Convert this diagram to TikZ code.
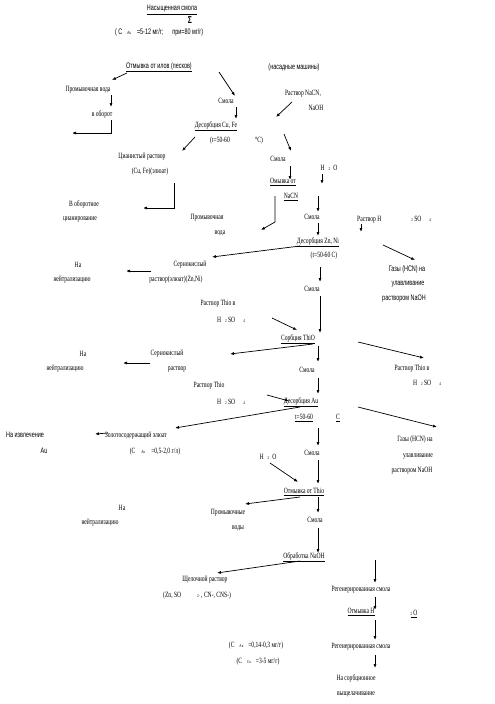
\documentclass[tikz,border=0pt]{standalone}
\usepackage{fontspec}
\usetikzlibrary{arrows.meta}
\newfontfamily\srf[FakeStretch=0.7]{Liberation Serif}
\newfontfamily\snf[FakeStretch=0.68]{Liberation Sans}
\newcommand\ssb[1]{{\fontsize{4.5}{5}\selectfont #1}}
\tikzset{
  t/.style={inner sep=0pt, font=\srf\fontsize{8}{9}\selectfont},
  ts/.style={inner sep=0pt, font=\snf\fontsize{8}{9}\selectfont},
  arr/.style={-{Latex[length=4pt,width=3pt]}, line width=0.7pt},
  ln/.style={line width=0.7pt}
}
\begin{document}
\begin{tikzpicture}[x=1pt,y=-1pt]
\useasboundingbox[fill=white] (0,0) rectangle (495,704);
% ---- texts ----
\node[ts] (nas) at (172,10) {\underline{Насыщенная смола}};
\node[inner sep=0pt, font=\snf\bfseries\fontsize{10}{10}\selectfont] (sig) at (190,20) {Σ};
\node[ts, anchor=west] (cau) at (115,32) {(\,C\hspace{5pt}\ssb{Au}\hspace{6pt}=5-12 мг/г;\hspace{9pt}при=80 мг/г)};
\node[ts] (otm) at (159,67) {\underline{Отмывка от илов (песков)}};
\node[ts] (nas2) at (294,67) {(насадные машины)};
\node[t] (pv1) at (88,90) {Промывочная вода};
\node[t] (vob) at (102,114) {в оборот};
\node[t] (sm1) at (226,101) {Смола};
\node[t] (dcu) at (216,126) {\underline{Десорбция Cu, Fe}};
\node[t] (t1) at (220,141) {(t=50-60};
\node[t] (t1b) at (259,141) {°C)};
\node[t] (nacn) at (303,94) {Раствор NaCN,};
\node[t] (naoh) at (316,108) {NaOH};
\node[t] (cr1) at (142,157) {Цианистый раствор};
\node[t] (cr2) at (150,172) {(Cu, Fe)(элюат)};
\node[t] (vo1) at (84,204) {В оборотное};
\node[t] (vo2) at (80,219) {цианирование};
\node[t] (sm2) at (278,159) {Смола};
\node[t] (om1) at (283,182) {\underline{Омывка от}};
\node[t] (om2) at (291,197) {\underline{NaCN}};
\node[t] (h2o1) at (329,168) {H\hspace{4pt}\ssb{2}\hspace{3pt}O};
\node[t] (sm3) at (312,217) {Смола};
\node[t] (pv2) at (207,218) {Промывочная};
\node[t] (pv3) at (220,233) {вода};
\node[t, anchor=west] (rh) at (357,220) {Раствор H\hspace{30pt}\ssb{2}\,SO\hspace{8pt}\ssb{4}};
\node[t] (dzn) at (318,242) {\underline{Десорбция Zn, Ni}};
\node[t] (t2) at (324,256) {(t=50-60 C)};
\node[ts] (g1a) at (407,269) {Газы (HCN) на};
\node[ts] (g1b) at (408,284) {улавливание};
\node[ts] (g1c) at (404,299) {раствором NaOH};
\node[t] (sk1) at (190,265) {Сернокислый};
\node[t] (sk2) at (176,280) {раствор(элюат)(Zn,Ni)};
\node[t] (nn1) at (78,265) {На};
\node[t] (nn2) at (72,280) {нейтрализацию};
\node[t] (sm4) at (312,289) {Смола};
\node[t] (rt1) at (218,304) {Раствор Thio в};
\node[t] (rt2) at (231,320) {H\hspace{4pt}\ssb{2}\,SO\hspace{8pt}\ssb{4}};
\node[t] (sth) at (298,339) {\underline{Сорбция ThiO}};
\node[t] (sk3) at (167,354) {Сернокислый};
\node[t] (sk4) at (177,369) {раствор};
\node[t] (nn3) at (83,354) {На};
\node[t] (nn4) at (65,369) {нейтрализацию};
\node[t] (rt3) at (412,369) {Раствор Thio в};
\node[t] (rt4) at (427,383) {H\hspace{4pt}\ssb{2}\,SO\hspace{8pt}\ssb{4}};
\node[t] (sm5) at (307,370) {Смола};
\node[t] (rt5) at (209,386) {Раствор Thio};
\node[t] (rt6) at (231,402) {H\hspace{4pt}\ssb{2}\,SO\hspace{8pt}\ssb{4}};
\node[t] (dau) at (301,402) {\underline{Десорбция Au}};
\node[t] (t3) at (304,418) {\underline{t=50-60}};
\node[t] (t3b) at (338,418) {\underline{C}};
\node[t] (ze1) at (136,436) {Золотосодержащий элюат};
\node[t] (ze2) at (155,452) {(C\hspace{6pt}\ssb{Au}\hspace{6pt}=0,5-2,0 г/л)};
\node[ts] (ni1) at (25,435) {На извлечение};
\node[ts] (ni2) at (44,451) {Au};
\node[t] (g2a) at (415,440) {Газы (HCN) на};
\node[t] (g2b) at (418,456) {улавливание};
\node[t] (g2c) at (412,471) {раствором NaOH};
\node[t] (sm6) at (312,453) {Смола};
\node[t] (h2o2) at (268,457) {H\hspace{4pt}\ssb{2}\hspace{3pt}O};
\node[t] (oth) at (304,492) {\underline{Отмывка от Thio}};
\node[t] (pv4) at (228,513) {Промывочные};
\node[t] (pv5) at (238,528) {воды};
\node[t] (nn5) at (122,508) {На};
\node[t] (nn6) at (100,523) {нейтрализацию};
\node[t] (sm7) at (315,520) {Смола};
\node[t] (obr) at (304,557) {\underline{Обработка NaOH}};
\node[t] (shr1) at (205,580) {Щелочной раствор};
\node[t, anchor=west] (shr2) at (163,596) {(Zn, SO\hspace{16pt}\ssb{2-}\,, CN-, CNS-)};
\node[t] (rs1) at (361,590) {Регенерированная смола};
\node[t] (oh1) at (361,612) {\underline{Отмывка H}};
\node[t] (oh2) at (414,614) {\underline{\ssb{2}\,O}};
\node[t] (rs2) at (361,647) {Регенерированная смола};
\node[t] (ns1) at (356,678) {На сорбционное};
\node[t] (ns2) at (356,694) {выщелачивание};
\node[t] (cau2) at (256,646) {(C\hspace{5pt}\ssb{Au}\hspace{5pt}=0,14-0,3 мг/г)};
\node[t] (ccu) at (258,662) {(C\hspace{5pt}\ssb{Cu}\hspace{5pt}=3-5 мг/г)};
% ---- connector points ----
\coordinate (a1s) at (127,73);  \coordinate (a1e) at (112,80);
\coordinate (a2s) at (111,95);  \coordinate (a2e) at (111,107);
\coordinate (a3s) at (111,120); \coordinate (a3m) at (111,133); \coordinate (a3e) at (72,133);
\coordinate (a4s) at (219,72);  \coordinate (a4e) at (235,96);
\coordinate (a5s) at (236,107); \coordinate (a5e) at (236,119);
\coordinate (a6s) at (292,102); \coordinate (a6e) at (276,117);
\coordinate (a7s) at (284,134); \coordinate (a7e) at (291,151);
\coordinate (a8s) at (195,137); \coordinate (a8e) at (182,151);
\coordinate (a9s) at (174,183); \coordinate (a9m) at (174,208); \coordinate (a9e) at (143,208);
\coordinate (a10s) at (290,166); \coordinate (a10e) at (290,180);
\coordinate (a11s) at (322,174); \coordinate (a11e) at (322,184);
\coordinate (a12s) at (275,196); \coordinate (a12m) at (275,222); \coordinate (a12e) at (261,230);
\coordinate (a13s) at (318,196); \coordinate (a13e) at (318,212);
\coordinate (a14s) at (318,223); \coordinate (a14e) at (318,236);
\coordinate (a15s) at (361,224); \coordinate (a15e) at (361,232);
\coordinate (a16s) at (300,246); \coordinate (a16e) at (212,257);
\coordinate (a17s) at (383,245); \coordinate (a17e) at (415,260);
\coordinate (a18s) at (151,271); \coordinate (a18e) at (126,271);
\coordinate (a19s) at (320,267); \coordinate (a19e) at (320,282);
\coordinate (a20s) at (320,296); \coordinate (a20e) at (320,333);
\coordinate (a21s) at (272,318); \coordinate (a21e) at (297,330);
\coordinate (a22s) at (313,344); \coordinate (a22e) at (230,354);
\coordinate (a23s) at (358,342); \coordinate (a23e) at (424,358);
\coordinate (a24s) at (150,363); \coordinate (a24e) at (123,363);
\coordinate (a25s) at (318,346); \coordinate (a25e) at (318,362);
\coordinate (a26s) at (318,378); \coordinate (a26e) at (318,394);
\coordinate (a27s) at (267,395); \coordinate (a27e) at (289,401);
\coordinate (a28s) at (300,407); \coordinate (a28e) at (175,428);
\coordinate (a29s) at (358,407); \coordinate (a29e) at (437,427);
\coordinate (a30s) at (108,433); \coordinate (a30e) at (95,434);
\coordinate (a31s) at (318,428); \coordinate (a31e) at (318,446);
\coordinate (a32s) at (318,460); \coordinate (a32e) at (318,484);
\coordinate (a33s) at (270,463); \coordinate (a33e) at (298,482);
\coordinate (a34s) at (300,497); \coordinate (a34e) at (245,504);
\coordinate (a35s) at (318,497); \coordinate (a35e) at (318,513);
\coordinate (a36s) at (318,528); \coordinate (a36e) at (318,553);
\coordinate (a37s) at (300,561); \coordinate (a37e) at (217,573);
\coordinate (a38s) at (375,560); \coordinate (a38e) at (375,583);
\coordinate (a39s) at (375,597); \coordinate (a39e) at (375,610);
\coordinate (a40s) at (375,620); \coordinate (a40e) at (375,640);
\coordinate (a41s) at (375,655); \coordinate (a41e) at (375,668);
% ---- connectors ----
\draw[arr] (a1s) -- (a1e);
\draw[arr] (a2s) -- (a2e);
\draw[arr] (a3s) -- (a3m) -- (a3e);
\draw[arr] (a4s) -- (a4e);
\draw[arr] (a5s) -- (a5e);
\draw[arr] (a6s) -- (a6e);
\draw[arr] (a7s) -- (a7e);
\draw[arr] (a8s) -- (a8e);
\draw[arr] (a9s) -- (a9m) -- (a9e);
\draw[arr] (a10s) -- (a10e);
\draw[arr] (a11s) -- (a11e);
\draw[arr] (a12s) -- (a12m) -- (a12e);
\draw[arr] (a13s) -- (a13e);
\draw[arr] (a14s) -- (a14e);
\draw[arr] (a15s) -- (a15e);
\draw[arr] (a16s) -- (a16e);
\draw[arr] (a17s) -- (a17e);
\draw[arr] (a18s) -- (a18e);
\draw[arr] (a19s) -- (a19e);
\draw[arr] (a20s) -- (a20e);
\draw[arr] (a21s) -- (a21e);
\draw[arr] (a22s) -- (a22e);
\draw[arr] (a23s) -- (a23e);
\draw[arr] (a24s) -- (a24e);
\draw[arr] (a25s) -- (a25e);
\draw[arr] (a26s) -- (a26e);
\draw[arr] (a27s) -- (a27e);
\draw[arr] (a28s) -- (a28e);
\draw[arr] (a29s) -- (a29e);
\draw[arr] (a30s) -- (a30e);
\draw[arr] (a31s) -- (a31e);
\draw[arr] (a32s) -- (a32e);
\draw[arr] (a33s) -- (a33e);
\draw[arr] (a34s) -- (a34e);
\draw[arr] (a35s) -- (a35e);
\draw[arr] (a36s) -- (a36e);
\draw[arr] (a37s) -- (a37e);
\draw[arr] (a38s) -- (a38e);
\draw[arr] (a39s) -- (a39e);
\draw[arr] (a40s) -- (a40e);
\draw[arr] (a41s) -- (a41e);
\end{tikzpicture}
\end{document}
